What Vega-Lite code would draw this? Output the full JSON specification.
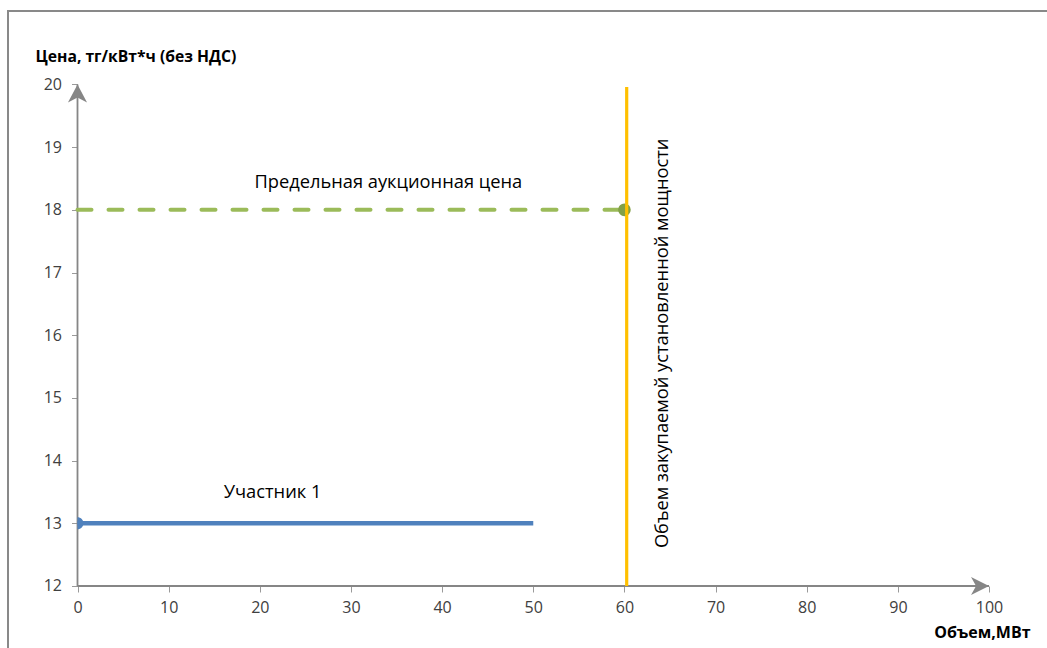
{
  "$schema": "https://vega.github.io/schema/vega-lite/v6.json",
  "autosize": "none",
  "width": 1042,
  "height": 640,
  "padding": {"left": 8, "top": 11, "right": -3, "bottom": -3},
  "background": "#ffffff",
  "config": {
    "view": {"stroke": "#898989", "strokeWidth": 2},
    "font": "Open Sans"
  },
  "datasets": {
    "axislines": [
      {"x": 0, "y": 12, "x2": 100, "y2": 12},
      {"x": 0, "y": 12, "x2": 0, "y2": 20}
    ],
    "segments": [
      {"series": "Предельная аукционная цена", "x": 0, "y": 18, "x2": 60, "y2": 18},
      {"series": "Участник 1", "x": 0, "y": 13, "x2": 50, "y2": 13},
      {"series": "Объем закупаемой установленной мощности", "x": 60.25, "y": 12, "x2": 60.25, "y2": 19.96}
    ],
    "labels": [
      {"x": 34.1, "y": 18.43, "label": "Предельная аукционная цена"},
      {"x": 21.4, "y": 13.48, "label": "Участник 1"}
    ],
    "vlabel": [
      {"x": 64.2, "y": 15.87, "label": "Объем закупаемой установленной мощности"}
    ]
  },
  "encoding": {
    "x": {
      "field": "x", "type": "quantitative",
      "scale": {"domain": [-7.625, 106.69], "nice": false, "zero": false},
      "axis": {
        "values": [0, 10, 20, 30, 40, 50, 60, 70, 80, 90, 100],
        "offset": -65, "domain": false, "grid": false,
        "tickSize": 6, "tickColor": "#9a9a9a", "tickWidth": 1,
        "labelFont": "Open Sans", "labelFontSize": 16, "labelColor": "#404040",
        "labelPadding": 7, "labelFlush": false, "labelOverlap": false,
        "title": "Объем,МВт", "titleX": 1022, "titleY": 46,
        "titleAlign": "right", "titleBaseline": "middle",
        "titleFont": "Open Sans", "titleFontWeight": "bold", "titleFontSize": 16, "titleColor": "#000000"
      }
    },
    "y": {
      "field": "y", "type": "quantitative",
      "scale": {"domain": [10.963, 21.171], "nice": false, "zero": false},
      "axis": {
        "values": [12, 13, 14, 15, 16, 17, 18, 19, 20],
        "offset": -69.5, "domain": false, "grid": false,
        "tickSize": 6, "tickColor": "#9a9a9a", "tickWidth": 1,
        "labelFont": "Open Sans", "labelFontSize": 16, "labelColor": "#404040",
        "labelPadding": 10, "labelFlush": false, "labelOverlap": false,
        "title": "Цена, тг/кВт*ч (без НДС)", "titleX": -42.5, "titleY": 45,
        "titleAngle": 0, "titleAlign": "left", "titleBaseline": "middle",
        "titleFont": "Open Sans", "titleFontWeight": "bold", "titleFontSize": 15.7, "titleColor": "#000000"
      }
    }
  },
  "layer": [
    {
      "data": {"name": "axislines"},
      "mark": {"type": "rule", "color": "#868686", "strokeWidth": 1.8},
      "encoding": {"x2": {"field": "x2"}, "y2": {"field": "y2"}}
    },
    {
      "data": {"name": "segments"},
      "transform": [{"filter": "datum.series === 'Предельная аукционная цена'"}],
      "mark": {"type": "rule", "color": "#9bbb59", "strokeWidth": 4, "strokeDash": [14, 17], "strokeCap": "round"},
      "encoding": {"x2": {"field": "x2"}, "y2": {"field": "y2"}}
    },
    {
      "data": {"name": "segments"},
      "transform": [{"filter": "datum.series === 'Предельная аукционная цена'"}, {"calculate": "datum.x2", "as": "px"}],
      "mark": {"type": "point", "shape": "circle", "filled": true, "color": "#82a048", "opacity": 1, "size": 160},
      "encoding": {"x": {"field": "px", "type": "quantitative"}}
    },
    {
      "data": {"name": "segments"},
      "transform": [{"filter": "datum.series === 'Участник 1'"}],
      "mark": {"type": "rule", "color": "#4f81bd", "strokeWidth": 4.5},
      "encoding": {"x2": {"field": "x2"}, "y2": {"field": "y2"}}
    },
    {
      "data": {"name": "segments"},
      "transform": [{"filter": "datum.series === 'Участник 1'"}],
      "mark": {"type": "point", "shape": "M0,-1 A1,1 0 0,1 0,1 Z", "filled": true, "color": "#4f81bd", "opacity": 1, "size": 144},
      "encoding": {}
    },
    {
      "data": {"name": "segments"},
      "transform": [{"filter": "datum.series === 'Объем закупаемой установленной мощности'"}],
      "mark": {"type": "rule", "color": "#ffc000", "strokeWidth": 3.2},
      "encoding": {"x2": {"field": "x2"}, "y2": {"field": "y2"}}
    },
    {
      "data": {"values": [{"x": 0, "y": 20}]},
      "mark": {"type": "point", "shape": "M0,0 L0.53,1 L0,0.72 L-0.53,1 Z", "filled": true, "color": "#868686", "opacity": 1, "size": 1296},
      "encoding": {}
    },
    {
      "data": {"values": [{"x": 100, "y": 12}]},
      "mark": {"type": "point", "shape": "M0,0 L-1,0.5 L-0.72,0 L-1,-0.5 Z", "filled": true, "color": "#868686", "opacity": 1, "size": 1296},
      "encoding": {}
    },
    {
      "data": {"name": "labels"},
      "mark": {"type": "text", "font": "Open Sans", "fontSize": 18.3, "color": "#000000", "align": "center", "baseline": "middle"},
      "encoding": {"text": {"field": "label"}}
    },
    {
      "data": {"name": "vlabel"},
      "mark": {"type": "text", "font": "Open Sans", "fontSize": 18.3, "color": "#000000", "align": "center", "baseline": "middle", "angle": 270},
      "encoding": {"text": {"field": "label"}}
    }
  ]
}
